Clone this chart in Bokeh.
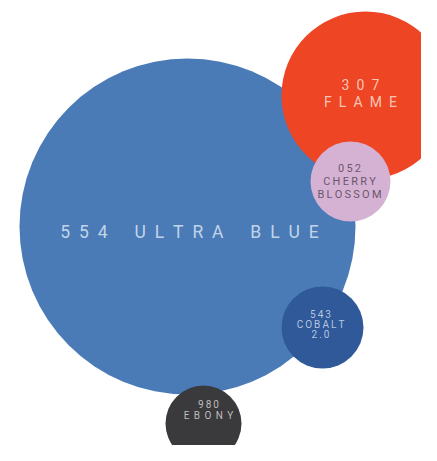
from bokeh.plotting import figure
from bokeh.models import ColumnDataSource, Range1d
from bokeh.embed import file_html
from bokeh.resources import INLINE
from bokeh.core.properties import value

# --- data (coordinates in chart units) ---
codes = ["554", "307", "052", "543", "980"]
names = [["ULTRA", "BLUE"], ["FLAME"], ["CHERRY", "BLOSSOM"], ["COBALT", "2.0"], ["EBONY"]]
bx = [187, 365, 350, 322, 203]
by = [226, 95, 181, 327, 423]
br = [168, 84, 40, 41, 38]

# --- styles ---
fill_colors = ["#4a7bb7", "#ee4524", "#d5b2d4", "#2f5999", "#3a393b"]
text_colors = ["#d3e0f0", "#fbd6c8", "#5b4a5c", "#c9d5ea", "#d0d0d0"]
font_sizes = [17.5, 14, 11, 10, 10]
line_heights = [0, 17, 13, 10, 11]
label_dx = [2, -5, -1, -2, 5]
label_dy = [5, -2.5, 0, -3, -13.5]
letter_sep = ["\u2002", "\u2002", "\u2009", "\u2009", "\u2004\u200a"]
digit_sep = ["\u2002", "\u2002", "\u2009", "\u2009", "\u2009"]
single_line = [True, False, False, False, False]


def spaced(word, sep):
    return sep.join(list(word))


p = figure(width=421, height=445, output_backend="svg", toolbar_location=None,
           x_range=Range1d(0, 421), y_range=Range1d(445, 0), min_border=0)
p.axis.visible = False
p.grid.visible = False
p.outline_line_color = None
p.background_fill_color = "white"
p.border_fill_color = "white"

src = ColumnDataSource(dict(x=bx, y=by, r=br, c=fill_colors))
p.circle(x="x", y="y", radius="r", fill_color="c", line_color=None, source=src)

tx, ty, tt, tc, tf, toff, txo = [], [], [], [], [], [], []
for i in range(len(codes)):
    sep = letter_sep[i]
    if single_line[i]:
        lines = [spaced(codes[i], sep) + "\u2002\u2003" + ("\u2002\u2003").join(spaced(w, sep) for w in names[i])]
    else:
        lines = [spaced(codes[i], digit_sep[i])] + [spaced(w, sep) for w in names[i]]
    n = len(lines)
    for j, ln in enumerate(lines):
        tx.append(bx[i])
        ty.append(by[i])
        tt.append(ln)
        tc.append(text_colors[i])
        tf.append(f"{font_sizes[i]}px")
        toff.append((j - (n - 1) / 2) * line_heights[i] + label_dy[i])
        txo.append(label_dx[i])

tsrc = ColumnDataSource(dict(x=tx, y=ty, t=tt, c=tc, f=tf, yo=toff, xo=txo))
p.text(x="x", y="y", text="t", text_color="c", text_font_size="f",
       x_offset="xo", y_offset="yo", text_align="center", text_baseline="middle",
       text_font=value("Roboto"), text_alpha=0.9, source=tsrc)

open("out.html", "w").write(file_html(p, INLINE))
